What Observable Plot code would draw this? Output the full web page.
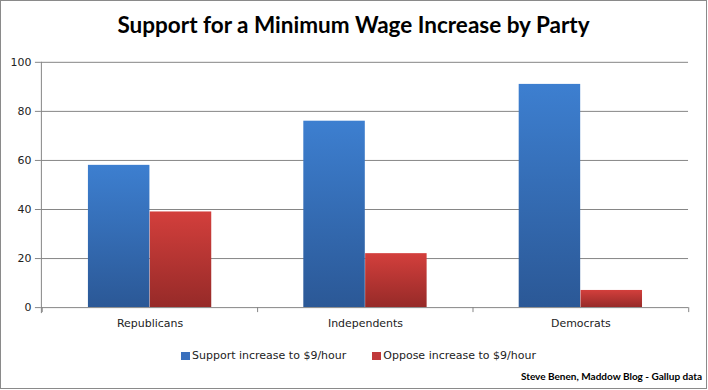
<!DOCTYPE html>
<html>
<head>
<meta charset="utf-8">
<script src="https://cdn.jsdelivr.net/npm/d3@7"></script>
<script src="https://cdn.jsdelivr.net/npm/@observablehq/plot@0.6"></script>
<style>
  html, body { margin: 0; padding: 0; background: #fff; }
  #wrap { position: relative; width: 707px; height: 389px; box-sizing: border-box; border: 1px solid #8a8a8a; overflow: hidden; background: #fff; }
  #title { position: absolute; left: 0; width: 100%; top: 10px; text-align: center; font-family: Lato, sans-serif; font-weight: bold; font-size: 22.5px; color: #000; }
  #chart { position: absolute; left: -1px; top: -1px; }
  #legend { position: absolute; top: 348px; left: 180px; font-family: "DejaVu Sans", Verdana, sans-serif; font-size: 11px; color: #222; display: flex; align-items: center; white-space: nowrap; }
  #legend .sw { display: inline-block; width: 9px; height: 8px; margin-right: 2px; }
  #legend .item { display: flex; align-items: center; margin-right: 26px; }
  #caption { position: absolute; right: 4px; top: 369px; font-family: Lato, sans-serif; font-weight: bold; font-size: 10px; color: #000; }
</style>
</head>
<body>
<div id="wrap">
  <div id="title"></div>
  <div id="chart"></div>
  <div id="legend"></div>
  <div id="caption"></div>
</div>
<script>
const titleText = "Support for a Minimum Wage Increase by Party";
const captionText = "Steve Benen, Maddow Blog - Gallup data";
const parties = ["Republicans", "Independents", "Democrats"];
const seriesNames = ["Support increase to $9/hour", "Oppose increase to $9/hour"];
const supportValues = [58, 76, 91];
const opposeValues = [39, 22, 7];
const yTicks = [0, 20, 40, 60, 80, 100];
const gridTicks = [20, 40, 60, 80, 100];

const swatchColors = ["#3a70bd", "#c0393a"];

const support = parties.map((p, i) => ({party: p, value: supportValues[i]}));
const oppose = parties.map((p, i) => ({party: p, value: opposeValues[i]}));

const W = 708, H = 340;
const mL = 41, mR = 18, mT = 62, mB = 32;
const band = (W - mL - mR) / parties.length;
const barW = 62;
const outer = (band - 2 * barW) / 2;
const gray = "#868686";

document.getElementById("title").textContent = titleText;
document.getElementById("caption").textContent = captionText;

const plot = Plot.plot({
  width: W,
  height: H,
  marginLeft: mL,
  marginRight: mR,
  marginTop: mT,
  marginBottom: mB,
  style: {fontFamily: "'DejaVu Sans', Verdana, sans-serif", fontSize: "11px", color: "#222", background: "transparent"},
  x: {domain: parties, padding: 0, label: null},
  y: {domain: [0, 100], label: null},
  marks: [
    Plot.ruleY(gridTicks, {stroke: gray, strokeWidth: 1}),
    Plot.barY(support, {x: "party", y: "value", fill: "url(#gBlue)", insetLeft: outer, insetRight: outer + barW}),
    Plot.barY(oppose, {x: "party", y: "value", fill: "url(#gRed)", insetLeft: outer + barW, insetRight: outer}),
    Plot.ruleY([0], {stroke: gray, strokeWidth: 1}),
    Plot.frame({anchor: "left", stroke: gray, insetBottom: -5}),
    Plot.ruleX(parties, {x: d => d, y1: 0, y2: 0, insetBottom: -5, dx: -band / 2, stroke: gray}),
    Plot.ruleX(parties.slice(-1), {x: d => d, y1: 0, y2: 0, insetBottom: -5, dx: band / 2, stroke: gray}),
    Plot.axisY(yTicks, {tickSize: 6, tickPadding: 4, stroke: gray, fill: "#222"}),
    Plot.axisX({tickSize: 0, tickPadding: 12, fill: "#222"})
  ]
});

const svg = d3.select(plot);
const defs = svg.insert("defs", ":first-child");
const gb = defs.append("linearGradient").attr("id", "gBlue").attr("x1", 0).attr("y1", 0).attr("x2", 0).attr("y2", 1);
gb.append("stop").attr("offset", "0%").attr("stop-color", "#3d7fd0");
gb.append("stop").attr("offset", "100%").attr("stop-color", "#2b5896");
const gr = defs.append("linearGradient").attr("id", "gRed").attr("x1", 0).attr("y1", 0).attr("x2", 0).attr("y2", 1);
gr.append("stop").attr("offset", "0%").attr("stop-color", "#d33f3c");
gr.append("stop").attr("offset", "100%").attr("stop-color", "#962a28");

document.getElementById("chart").appendChild(plot);

const legend = d3.select("#legend");
seriesNames.forEach((name, i) => {
  const item = legend.append("span").attr("class", "item");
  item.append("span").attr("class", "sw").style("background", swatchColors[i]);
  item.append("span").text(name);
});
</script>
</body>
</html>
